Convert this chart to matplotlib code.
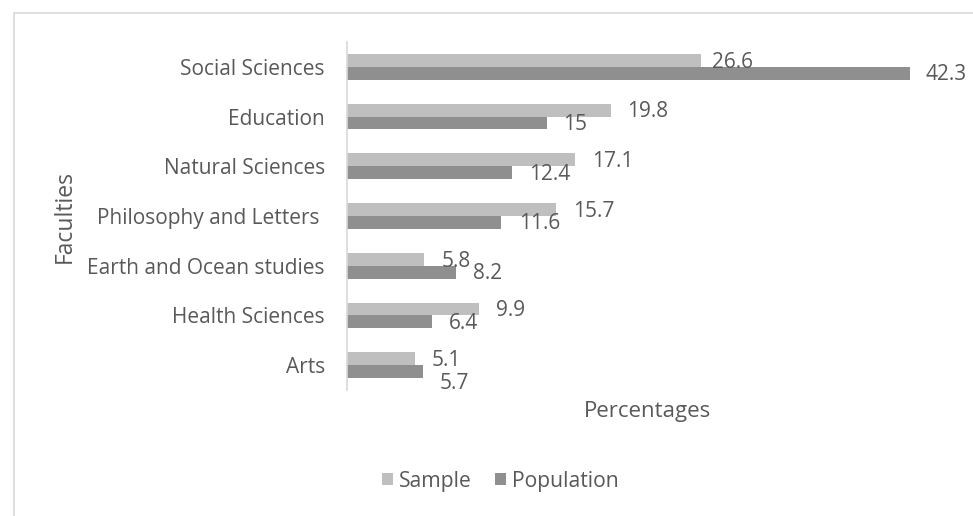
import matplotlib.pyplot as plt
from matplotlib.patches import Rectangle
import numpy as np

plt.rcParams['font.family'] = ['Open Sans', 'DejaVu Sans']

faculties = ["Social Sciences", "Education", "Natural Sciences",
             "Philosophy and Letters ", "Earth and Ocean studies",
             "Health Sciences", "Arts"]
sample = [26.6, 19.8, 17.1, 15.7, 5.8, 9.9, 5.1]
population = [42.3, 15, 12.4, 11.6, 8.2, 6.4, 5.7]

# label nudges in pixels (x, y) relative to the bar end
sample_nudge = [(11, 2), (17, 1.5), (17, 1.5), (17, 1.5), (17, 2), (17, 1.5), (17, 1.5)]
pop_nudge = [(15, 1), (16, 1.5), (17, 1.5), (18, 1.5), (17, 1.5), (17, 1.5), (17, 12)]

c_sample = "#BFBFBF"
c_pop = "#8F8F8F"
c_text = "#595959"
c_line = "#D9D9D9"

W, H = 973, 516
fig = plt.figure(figsize=(W / 100, H / 100), dpi=100)

# outer chart frame
fig.patches.append(Rectangle((14 / W, -0.05), 1.2, (H - 13) / H + 0.05,
                             transform=fig.transFigure, fill=False,
                             edgecolor=c_line, linewidth=1.2))

ax = fig.add_axes([347 / W, 126 / H, 602 / W, 348 / H])
y = np.arange(len(faculties))
h = 0.26
ax.barh(y - h / 2, sample, height=h, color=c_sample, label="Sample")
ax.barh(y + h / 2, population, height=h, color=c_pop, label="Population")

ax.set_xlim(0, 602 / 13.31)
ax.set_ylim(len(faculties) - 0.5, -0.5)

fs = 15
for i, v in enumerate(sample):
    dx, dy = sample_nudge[i]
    ax.annotate(f"{v:g}", (v, i - h / 2), xytext=(dx, -dy), textcoords="offset pixels",
                ha="left", va="center", fontsize=fs, color=c_text)
for i, v in enumerate(population):
    dx, dy = pop_nudge[i]
    ax.annotate(f"{v:g}", (v, i + h / 2), xytext=(dx, -dy), textcoords="offset pixels",
                ha="left", va="center", fontsize=fs, color=c_text)

ax.set_yticks(y)
ax.set_yticklabels(faculties, fontsize=fs, color=c_text)
ax.tick_params(axis="y", length=0, pad=16)
ax.set_xticks([])
for s in ["top", "right", "bottom"]:
    ax.spines[s].set_visible(False)
ax.spines["left"].set_color(c_line)
ax.spines["left"].set_linewidth(1.2)

fig.text(648 / W, 1 - 412 / H, "Percentages", ha="center", va="center",
         fontsize=16, color=c_text)
fig.text(65 / W, 1 - 216 / H, "Faculties", ha="center", va="center",
         rotation=90, fontsize=16.5, color=c_text)

fig.legend(loc="center", bbox_to_anchor=(500 / W, 1 - 481 / H), ncol=2,
           frameon=False, fontsize=15.2, labelcolor=c_text,
           handlelength=0.55, handleheight=0.55, handletextpad=0.25,
           columnspacing=1.1)

fig.savefig("out.png", dpi=100, facecolor="white")
